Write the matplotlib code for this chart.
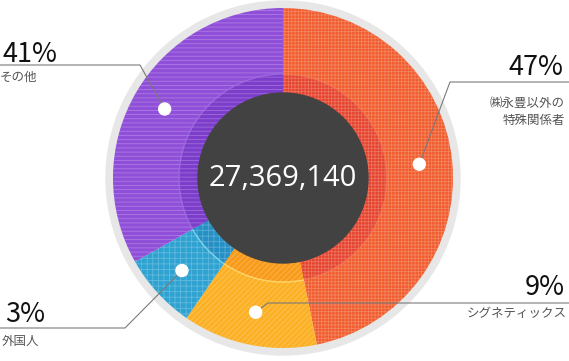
import numpy as np
import matplotlib.pyplot as plt
from matplotlib.patches import Circle, Arc

W, H = 569, 361

# categories clockwise from 12 o'clock
labels = ["㈱永豊以外の\n特殊関係者", "シグネティックス", "外国人", "その他"]
pct_text = ["47%", "9%", "3%", "41%"]
# wedge shares as drawn in the picture (small slices are drawn larger than their %)
shares = [46.8, 12.8, 7.2, 33.2]
total = "27,369,140"

colors = ["#F15A2B", "#FCB024", "#2EA2D1", "#904FD8"]
inner_colors = ["#E6422B", "#F99B1A", "#2590C4", "#7C3DCB"]
rim_colors = ["#F47A55", "#FFE27A", "#8FE0F5", "#A070E0"]
hatches = ["+++++", "//////", "+++", "----"]

plt.rcParams["font.family"] = ["Noto Sans CJK JP", "DejaVu Sans"]
plt.rcParams["hatch.linewidth"] = 0.6


def Y(y):
    # picture rows run downwards
    return H - y


cx, cy = 283, Y(178)
r_out, r_in, r_hole, r_rim = 170, 104, 85, 177

fig = plt.figure(figsize=(W / 100, H / 100), dpi=100)
ax = fig.add_axes([0, 0, 1, 1])

ax.add_patch(Circle((cx, cy), r_rim, color="#E7E7E7", zorder=0))

wedges, _ = ax.pie(shares, colors=colors, center=(cx, cy), radius=r_out,
                   startangle=90, counterclock=False,
                   wedgeprops=dict(linewidth=0))
ax.pie(shares, colors=inner_colors, center=(cx, cy), radius=r_in,
       startangle=90, counterclock=False, wedgeprops=dict(linewidth=0))
tex, _ = ax.pie(shares, colors=["none"] * 4, center=(cx, cy), radius=r_out,
                startangle=90, counterclock=False, hatch=hatches,
                wedgeprops=dict(linewidth=0))
for w in tex:
    w.set_edgecolor((1, 1, 1, 0.25))

# light rim along the inner ring
for w, rc in zip(wedges, rim_colors):
    ax.add_patch(Arc((cx, cy), 2 * r_in, 2 * r_in, theta1=w.theta1, theta2=w.theta2,
                     color=rc, lw=1.0, alpha=0.8))

ax.add_patch(Circle((cx, cy), r_hole, color="#424242", zorder=5))
ax.text(cx, cy - 1, total, color="white", fontsize=21, ha="center", va="center",
        family=["Open Sans", "DejaVu Sans"], zorder=6)

# label layout: elbow point, line end, text anchor x, alignment, baseline of %
layout = [
    dict(elbow=(450, 82), end=569, tx=563, ha="right", py=75, ly=103),
    dict(elbow=(268, 303), end=569, tx=565, ha="right", py=295, ly=314),
    dict(elbow=(125, 328), end=0, tx=5, ha="left", py=322, ly=341),
    dict(elbow=(140, 65), end=0, tx=3, ha="left", py=62, ly=77),
]

for w, lab, pt, lo in zip(wedges, labels, pct_text, layout):
    mid = np.deg2rad((w.theta1 + w.theta2) / 2)
    dx, dy = cx + 137 * np.cos(mid), cy + 137 * np.sin(mid)
    ex, ey = lo["elbow"]
    ax.plot([dx, ex, lo["end"]], [dy, Y(ey), Y(ey)], color="#7a7a7a", lw=0.8,
            zorder=7, solid_capstyle="butt")
    ax.add_patch(Circle((dx, dy), 6, color="white", zorder=8))
    ax.text(lo["tx"], Y(lo["py"]), pt, fontsize=19.5, color="#111111", ha=lo["ha"],
            va="baseline", zorder=9)
    for i, line in enumerate(lab.split("\n")):
        ax.text(lo["tx"] + (2 if lo["ha"] == "right" else -3), Y(lo["ly"] + 17 * i), line,
                fontsize=9, color="#555555", ha=lo["ha"], va="center", zorder=9)

ax.set_xlim(0, W)
ax.set_ylim(0, H)
ax.set_aspect("equal")
ax.axis("off")

fig.savefig("out.png", dpi=100)
